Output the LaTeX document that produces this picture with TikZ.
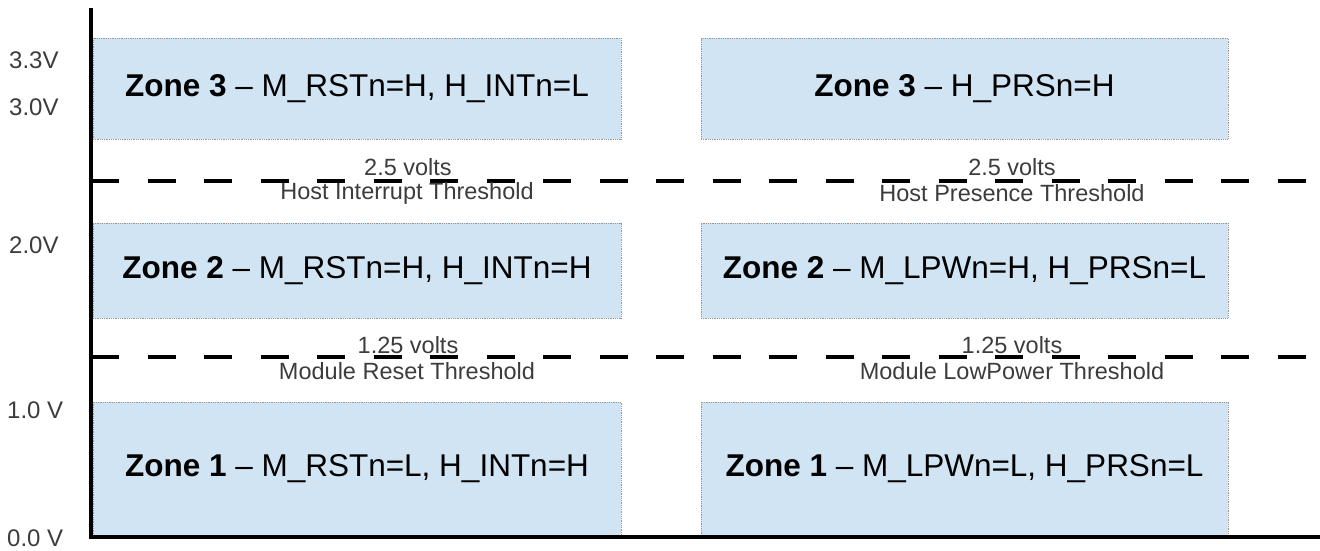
\documentclass[tikz,border=0pt]{standalone}
\usepackage{fontspec}
\setmainfont{Liberation Sans}
\definecolor{zonefill}{RGB}{208,228,243}
\definecolor{zoneedge}{RGB}{150,150,150}
\definecolor{labgray}{RGB}{60,60,60}
\begin{document}
\begin{tikzpicture}[x=1pt,y=-1pt,
  zone/.style={draw=zoneedge, densely dotted, line width=0.8pt, fill=zonefill, inner sep=0pt, text=black, font=\fontsize{31.5}{34}\selectfont},
  axis/.style={line width=4pt, black},
  thr/.style={line width=4pt, black, dash pattern=on 28pt off 28.5pt},
  thrlab/.style={text=labgray, font=\fontsize{23.5}{26}\selectfont, inner sep=0pt},
  vlab/.style={text=labgray, font=\fontsize{24}{26}\selectfont, inner sep=0pt, anchor=west}]
\useasboundingbox (0,0) rectangle (1320,550);
% zones
\node[zone, minimum width=528pt, minimum height=101pt] (L3) at (357,88.5) {\textbf{Zone 3} -- M\_RSTn=H, H\_INTn=L};
\node[zone, minimum width=528pt, minimum height=95pt] (L2) at (357,270.5) {\textbf{Zone 2} -- M\_RSTn=H, H\_INTn=H};
\node[zone, minimum width=528pt, minimum height=134pt] (L1) at (357,469) {\textbf{Zone 1} -- M\_RSTn=L, H\_INTn=H};
\node[zone, minimum width=527pt, minimum height=101pt] (R3) at (964.5,88.5) {\textbf{Zone 3} -- H\_PRSn=H};
\node[zone, minimum width=527pt, minimum height=95pt] (R2) at (964.5,270.5) {\textbf{Zone 2} -- M\_LPWn=H, H\_PRSn=L};
\node[zone, minimum width=527pt, minimum height=134pt] (R1) at (964.5,469) {\textbf{Zone 1} -- M\_LPWn=L, H\_PRSn=L};
% thresholds
\coordinate (t2a) at (91,181);
\coordinate (t2b) at (1320,181);
\coordinate (t1a) at (91,357);
\coordinate (t1b) at (1320,357);
\draw[thr] (t2a) -- (t2b);
\draw[thr] (t1a) -- (t1b);
\node[thrlab] (a1) at (408,167) {2.5 volts};
\node[thrlab] (a2) at (407,193) {Host Interrupt Threshold};
\node[thrlab] (b1) at (1012,167) {2.5 volts};
\node[thrlab] (b2) at (1012,193) {Host Presence Threshold};
\node[thrlab] (c1) at (408,345) {1.25 volts};
\node[thrlab] (c2) at (407,371) {Module Reset Threshold};
\node[thrlab] (d1) at (1012,345) {1.25 volts};
\node[thrlab] (d2) at (1012,371) {Module LowPower Threshold};
% axes
\coordinate (top) at (91,8);
\coordinate (org) at (91,539);
\coordinate (xstart) at (89,537);
\coordinate (xend) at (1320,537);
\draw[axis] (top) -- (org);
\draw[axis] (xstart) -- (xend);
% voltage labels
\node[vlab] (v33) at (9,60) {3.3V};
\node[vlab] (v30) at (9,107) {3.0V};
\node[vlab] (v20) at (9,245) {2.0V};
\node[vlab] (v10) at (7,410) {1.0 V};
\node[vlab] (v00) at (7,538) {0.0 V};
\end{tikzpicture}
\end{document}
